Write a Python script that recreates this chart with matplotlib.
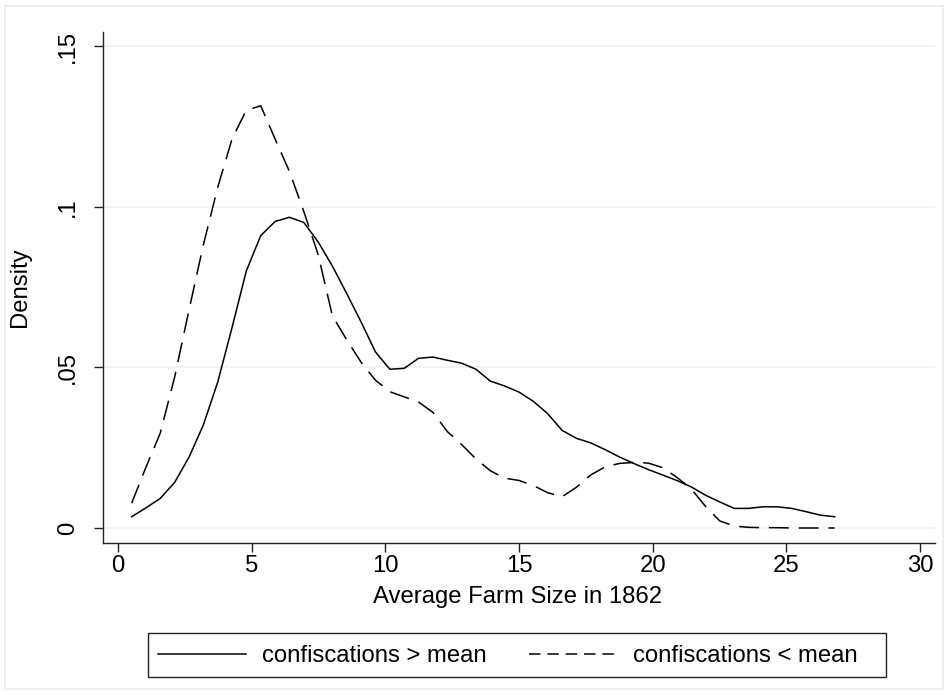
import matplotlib
matplotlib.use("Agg")
import matplotlib.pyplot as plt
from matplotlib.lines import Line2D
from matplotlib.patches import Rectangle

plt.rcParams['font.family'] = ['Liberation Sans', 'DejaVu Sans']

# ---- data ----
farm_size = [0.51, 1.05, 1.58, 2.12, 2.66, 3.19, 3.73, 4.27, 4.80, 5.34,
             5.88, 6.41, 6.95, 7.49, 8.02, 8.56, 9.10, 9.63, 10.17, 10.71,
             11.24, 11.78, 12.32, 12.85, 13.39, 13.93, 14.46, 15.00, 15.54, 16.07,
             16.61, 17.15, 17.68, 18.22, 18.76, 19.29, 19.83, 20.37, 20.90, 21.44,
             21.98, 22.51, 23.05, 23.59, 24.12, 24.66, 25.20, 25.73, 26.27, 26.81]

density_above = [0.0035, 0.0063, 0.0092, 0.0142, 0.0221, 0.0320, 0.0454, 0.0625, 0.0800, 0.0910,
                 0.0954, 0.0967, 0.0951, 0.0890, 0.0815, 0.0729, 0.0640, 0.0548, 0.0494, 0.0497,
                 0.0528, 0.0532, 0.0522, 0.0513, 0.0494, 0.0457, 0.0442, 0.0423, 0.0394, 0.0356,
                 0.0304, 0.0279, 0.0265, 0.0244, 0.0221, 0.0201, 0.0182, 0.0165, 0.0148, 0.0128,
                 0.0102, 0.0081, 0.0061, 0.0061, 0.0066, 0.0066, 0.0061, 0.0051, 0.0040, 0.0035]

density_below = [0.0077, 0.0190, 0.0295, 0.0470, 0.0680, 0.0880, 0.1060, 0.1212, 0.1300, 0.1314,
                 0.1210, 0.1110, 0.0985, 0.0850, 0.0660, 0.0585, 0.0515, 0.0460, 0.0424, 0.0408,
                 0.0392, 0.0360, 0.0300, 0.0260, 0.0215, 0.0178, 0.0155, 0.0148, 0.0132, 0.0110,
                 0.0097, 0.0127, 0.0165, 0.0190, 0.0201, 0.0204, 0.0202, 0.0188, 0.0158, 0.0122,
                 0.0067, 0.0022, 0.0006, 0.0002, 0.0001, 0.0001, 0.0000, 0.0000, 0.0000, 0.0000]

x_ticks = [0, 5, 10, 15, 20, 25, 30]
x_tick_labels = ['0', '5', '10', '15', '20', '25', '30']
y_ticks = [0, 0.05, 0.10, 0.15]
y_tick_labels = ['0', '.05', '.1', '.15']
series_labels = ['confiscations > mean', 'confiscations < mean']

FS = 17.2
W, H = 948, 695
fig = plt.figure(figsize=(W / 100, H / 100), dpi=100)
fig.patch.set_facecolor('white')

# outer light frame
fig.patches.append(Rectangle((5 / W, 1 - 689 / H), 938 / W, 683 / H,
                             transform=fig.transFigure, fill=False,
                             edgecolor='#e6eef0', linewidth=1.2))

ax = fig.add_axes([103 / W, 1 - 543 / H, 832 / W, 511 / H])
ax.set_facecolor('white')

ax.plot(farm_size, density_above, color='black', linewidth=1.1,
        solid_joinstyle='miter')
ax.plot(farm_size, density_below, color='black', linewidth=1.1,
        dashes=(13, 6.5))

ax.set_xlim(-0.561, 30.561)
ax.set_ylim(-0.00467, 0.15436)

ax.set_xticks(x_ticks)
ax.set_xticklabels(x_tick_labels)
ax.set_yticks(y_ticks)
ax.set_yticklabels(y_tick_labels, rotation=90, va='center')

for s in ['top', 'right']:
    ax.spines[s].set_visible(False)
for s in ['left', 'bottom']:
    ax.spines[s].set_color('#222222')
    ax.spines[s].set_linewidth(1.0)

ax.tick_params(axis='both', direction='out', length=6.5, width=1.0,
               color='#222222', labelsize=FS, labelcolor='black')
ax.tick_params(axis='x', pad=2.5)
ax.tick_params(axis='y', pad=11)

ax.yaxis.grid(True, color='#eaf2f3', linewidth=1.1)
ax.xaxis.grid(False)
ax.set_axisbelow(True)

fig.text(518 / W, 1 - 603 / H, 'Average Farm Size in 1862', ha='center',
         va='baseline', fontsize=FS)
fig.text(20 / W, 1 - 287 / H, 'Density', ha='center', va='center',
         rotation=90, fontsize=FS)

# legend frame
fig.patches.append(Rectangle((148 / W, 1 - 677 / H), 738 / W, 44 / H,
                             transform=fig.transFigure, fill=False,
                             edgecolor='#222222', linewidth=1.0))

handles = [Line2D([], [], color='black', linewidth=1.1),
           Line2D([], [], color='black', linewidth=1.1, dashes=(7.5, 4.5))]
leg = fig.legend(handles, series_labels, loc='center left',
                 bbox_to_anchor=(148 / W, 1 - 656 / H), ncol=2,
                 fontsize=FS, frameon=False,
                 handlelength=3.7, handletextpad=0.65, columnspacing=1.78,
                 borderpad=0.42, borderaxespad=0)

fig.savefig('out.png', dpi=100, facecolor='white')
